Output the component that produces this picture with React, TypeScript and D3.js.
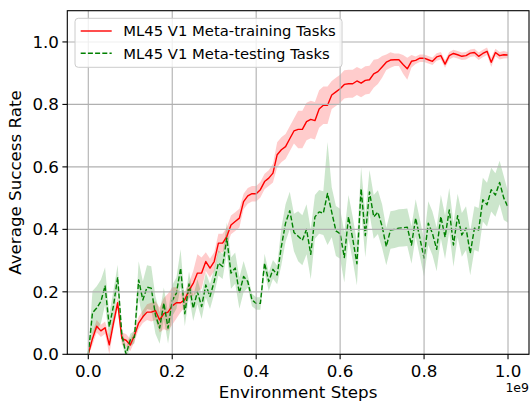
import { useEffect, useRef } from 'react';
import * as d3 from 'd3';

// Mean success rate and std, one value every 1e7 environment steps (0 .. 1e9)
const trainMean = [
    0.0, 0.05, 0.09, 0.075, 0.085, 0.03, 0.1, 0.165, 0.05, 0.045,
    0.03, 0.06, 0.1, 0.12, 0.135, 0.135, 0.14, 0.11, 0.13, 0.135,
    0.155, 0.165, 0.165, 0.175, 0.205, 0.227, 0.26, 0.26, 0.297, 0.276,
    0.297, 0.356, 0.356, 0.377, 0.414, 0.425, 0.436, 0.489, 0.507, 0.514,
    0.514, 0.527, 0.553, 0.564, 0.58, 0.639, 0.655, 0.665, 0.69, 0.715,
    0.72, 0.72, 0.745, 0.752, 0.748, 0.785, 0.797, 0.797, 0.83, 0.84,
    0.85, 0.864, 0.866, 0.866, 0.875, 0.868, 0.877, 0.879, 0.898, 0.905,
    0.92, 0.935, 0.942, 0.943, 0.943, 0.928, 0.914, 0.938, 0.941, 0.948,
    0.948, 0.943, 0.938, 0.952, 0.956, 0.929, 0.956, 0.963, 0.959, 0.954,
    0.956, 0.964, 0.966, 0.954, 0.963, 0.97, 0.935, 0.966, 0.956, 0.959,
    0.958,
];
const trainStd = [
    0.005, 0.02, 0.02, 0.02, 0.02, 0.03, 0.02, 0.02, 0.02, 0.02,
    0.02, 0.02, 0.02, 0.02, 0.025, 0.03, 0.03, 0.04, 0.05, 0.06,
    0.06, 0.05, 0.03, 0.025, 0.025, 0.04, 0.06, 0.05, 0.03, 0.03,
    0.03, 0.03, 0.03, 0.03, 0.03, 0.03, 0.03, 0.025, 0.025, 0.025,
    0.025, 0.025, 0.025, 0.025, 0.03, 0.04, 0.04, 0.04, 0.04, 0.04,
    0.06, 0.06, 0.06, 0.06, 0.06, 0.06, 0.06, 0.06, 0.045, 0.045,
    0.045, 0.045, 0.045, 0.045, 0.045, 0.045, 0.045, 0.045, 0.045, 0.04,
    0.035, 0.025, 0.025, 0.02, 0.02, 0.03, 0.035, 0.02, 0.012, 0.012,
    0.012, 0.012, 0.012, 0.012, 0.012, 0.012, 0.012, 0.012, 0.012, 0.012,
    0.012, 0.012, 0.012, 0.012, 0.012, 0.012, 0.015, 0.012, 0.012, 0.012,
    0.01,
];
const testMean = [
    0.0, 0.133, 0.148, 0.169, 0.219, 0.088, 0.155, 0.247, 0.062, 0.0,
    0.046, 0.055, 0.238, 0.174, 0.215, 0.212, 0.126, 0.084, 0.164, 0.084,
    0.172, 0.196, 0.276, 0.13, 0.225, 0.147, 0.2, 0.153, 0.222, 0.185,
    0.233, 0.292, 0.281, 0.372, 0.26, 0.276, 0.196, 0.249, 0.233, 0.174,
    0.163, 0.163, 0.292, 0.233, 0.272, 0.254, 0.345, 0.42, 0.46, 0.39,
    0.378, 0.365, 0.4, 0.32, 0.44, 0.456, 0.452, 0.515, 0.455, 0.395,
    0.386, 0.31, 0.44, 0.37, 0.29, 0.53, 0.38, 0.52, 0.44, 0.455,
    0.41, 0.345, 0.398, 0.4, 0.404, 0.405, 0.407, 0.35, 0.436, 0.372,
    0.308, 0.42, 0.387, 0.336, 0.441, 0.375, 0.462, 0.35, 0.444, 0.382,
    0.404, 0.323, 0.404, 0.398, 0.495, 0.479, 0.527, 0.51, 0.55, 0.5,
    0.471,
];
const testStd = [
    0.01, 0.07, 0.07, 0.07, 0.06, 0.04, 0.05, 0.04, 0.02, 0.02,
    0.02, 0.02, 0.06, 0.06, 0.07, 0.07, 0.06, 0.05, 0.05, 0.05,
    0.05, 0.05, 0.06, 0.04, 0.04, 0.04, 0.04, 0.04, 0.04, 0.04,
    0.04, 0.04, 0.04, 0.05, 0.05, 0.05, 0.05, 0.05, 0.02, 0.02,
    0.02, 0.02, 0.03, 0.03, 0.03, 0.03, 0.06, 0.06, 0.06, 0.06,
    0.08, 0.08, 0.08, 0.08, 0.07, 0.07, 0.07, 0.165, 0.08, 0.08,
    0.08, 0.08, 0.07, 0.07, 0.07, 0.07, 0.07, 0.07, 0.07, 0.07,
    0.07, 0.06, 0.06, 0.06, 0.06, 0.06, 0.06, 0.06, 0.06, 0.06,
    0.06, 0.07, 0.07, 0.07, 0.07, 0.07, 0.07, 0.07, 0.07, 0.07,
    0.07, 0.07, 0.07, 0.07, 0.07, 0.07, 0.07, 0.07, 0.07, 0.07,
    0.05,
];
const stepSize = 1e7;
const xTicks = [0, 0.2e9, 0.4e9, 0.6e9, 0.8e9, 1.0e9];
const yTicks = [0, 0.2, 0.4, 0.6, 0.8, 1.0];
const seriesNames = ['ML45 V1 Meta-training Tasks', 'ML45 V1 Meta-testing Tasks'];

const App = () => {
    const ref = useRef(null);
    const width = 531,
        height = 401;
    const left = 67.3,
        right = 529,
        top = 10.7,
        bottom = 354.3;
    const font = 'DejaVu Sans, sans-serif';

    useEffect(() => {
        const svg = d3.select(ref.current).attr('width', width).attr('height', height);
        svg.selectAll('*').remove();

        const x = d3.scaleLinear().domain([-0.05e9, 1.05e9]).range([left, right]);
        const y = d3.scaleLinear().domain([0, 1.1]).range([bottom, top]);

        svg.append('rect').attr('width', width).attr('height', height).attr('fill', 'white');

        svg.append('clipPath')
            .attr('id', 'plot-clip')
            .append('rect')
            .attr('x', left)
            .attr('y', top)
            .attr('width', right - left)
            .attr('height', bottom - top);

        const plot = svg.append('g').attr('clip-path', 'url(#plot-clip)');

        const series = [
            { mean: trainMean, std: trainStd, color: '#ff0000', dash: null },
            { mean: testMean, std: testStd, color: '#008000', dash: '5,2.2' },
        ];

        // std bands
        series.forEach((s) => {
            const area = d3
                .area()
                .x((d, i) => x(i * stepSize))
                .y0((d, i) => y(s.mean[i] - s.std[i]))
                .y1((d, i) => y(s.mean[i] + s.std[i]));
            plot.append('path')
                .datum(s.mean)
                .attr('d', area)
                .attr('fill', s.color)
                .attr('fill-opacity', 0.2)
                .attr('stroke', 'none');
        });

        // grid
        const grid = svg.append('g').attr('stroke', '#b0b0b0').attr('stroke-width', 1.1);
        xTicks.forEach((t) => {
            grid.append('line').attr('x1', x(t)).attr('x2', x(t)).attr('y1', top).attr('y2', bottom);
        });
        yTicks.forEach((t) => {
            grid.append('line').attr('x1', left).attr('x2', right).attr('y1', y(t)).attr('y2', y(t));
        });

        // mean lines
        series.forEach((s) => {
            const line = d3
                .line()
                .x((d, i) => x(i * stepSize))
                .y((d) => y(d));
            plot.append('path')
                .datum(s.mean)
                .attr('d', line)
                .attr('fill', 'none')
                .attr('stroke', s.color)
                .attr('stroke-width', 1.4)
                .attr('stroke-dasharray', s.dash)
                .attr('stroke-linejoin', 'round');
        });

        // frame
        svg.append('rect')
            .attr('x', left)
            .attr('y', top)
            .attr('width', right - left)
            .attr('height', bottom - top)
            .attr('fill', 'none')
            .attr('stroke', 'black')
            .attr('stroke-width', 1.1);

        // x ticks
        xTicks.forEach((t) => {
            svg.append('line')
                .attr('x1', x(t))
                .attr('x2', x(t))
                .attr('y1', bottom)
                .attr('y2', bottom + 4.9)
                .attr('stroke', 'black')
                .attr('stroke-width', 1.1);
            svg.append('text')
                .attr('x', x(t))
                .attr('y', bottom + 23)
                .attr('text-anchor', 'middle')
                .attr('font-family', font)
                .attr('font-size', 16.7)
                .text((t / 1e9).toFixed(1));
        });

        // y ticks
        yTicks.forEach((t) => {
            svg.append('line')
                .attr('x1', left - 4.9)
                .attr('x2', left)
                .attr('y1', y(t))
                .attr('y2', y(t))
                .attr('stroke', 'black')
                .attr('stroke-width', 1.1);
            svg.append('text')
                .attr('x', left - 8.3)
                .attr('y', y(t) + 6)
                .attr('text-anchor', 'end')
                .attr('font-family', font)
                .attr('font-size', 16.7)
                .text(t.toFixed(1));
        });

        // axis labels
        svg.append('text')
            .attr('x', (left + right) / 2)
            .attr('y', 398)
            .attr('text-anchor', 'middle')
            .attr('font-family', font)
            .attr('font-size', 16.7)
            .text('Environment Steps');

        svg.append('text')
            .attr('transform', `translate(21,${(top + bottom) / 2}) rotate(-90)`)
            .attr('text-anchor', 'middle')
            .attr('font-family', font)
            .attr('font-size', 16.7)
            .text('Average Success Rate');

        svg.append('text')
            .attr('x', right)
            .attr('y', 391.5)
            .attr('text-anchor', 'end')
            .attr('font-family', font)
            .attr('font-size', 12.5)
            .text('1e9');

        // legend
        const legend = svg.append('g');
        legend.append('rect')
            .attr('x', 75)
            .attr('y', 18.3)
            .attr('width', 267)
            .attr('height', 49)
            .attr('rx', 3.3)
            .attr('fill', 'white')
            .attr('fill-opacity', 0.8)
            .attr('stroke', '#cccccc')
            .attr('stroke-width', 1);
        series.forEach((s, i) => {
            const cy = 31 + i * 22.3;
            legend.append('line')
                .attr('x1', 80.7)
                .attr('x2', 111.7)
                .attr('y1', cy)
                .attr('y2', cy)
                .attr('stroke', s.color)
                .attr('stroke-width', 1.4)
                .attr('stroke-dasharray', s.dash);
            legend.append('text')
                .attr('x', 123.3)
                .attr('y', cy + 5.4)
                .attr('font-family', font)
                .attr('font-size', 14.8)
                .text(seriesNames[i]);
        });
    }, []);

    return <svg ref={ref} style={{ position: 'absolute', left: 0, top: 0 }}></svg>;
};

export default App;
